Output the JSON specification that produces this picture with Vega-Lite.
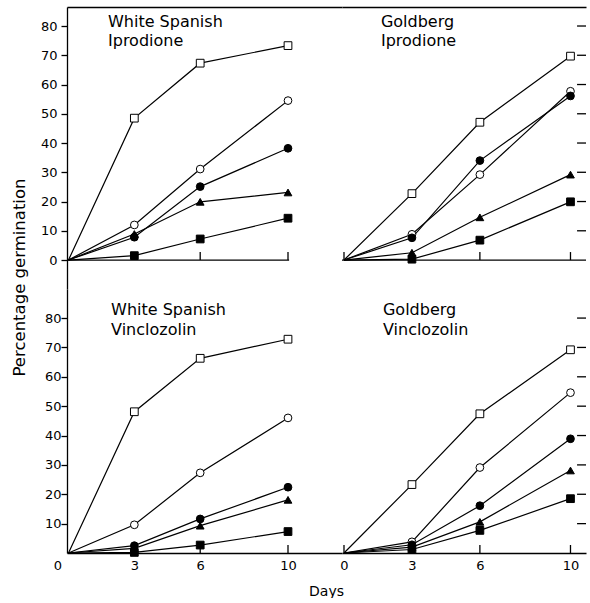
{
  "$schema": "https://vega.github.io/schema/vega-lite/v6.json",
  "padding": {"left": 10, "top": 7, "right": 0, "bottom": 0},
  "config": {
    "font": "DejaVu Sans",
    "view": {"stroke": null},
    "axis": {"grid": false, "domainColor": "black", "tickColor": "black", "labelColor": "black", "titleColor": "black", "labelFontSize": 13, "labelFontWeight": "normal", "labelFlush": false, "labelOverlap": false, "domainWidth": 1.3, "tickWidth": 1.3}
  },
  "datasets": {
    "germ": [
      {"panel": "TL", "series": "open square", "day": 0, "pct": 0},
      {"panel": "TL", "series": "open square", "day": 3, "pct": 48.5},
      {"panel": "TL", "series": "open square", "day": 6, "pct": 67.3},
      {"panel": "TL", "series": "open square", "day": 10, "pct": 73.3},
      {"panel": "TL", "series": "open circle", "day": 0, "pct": 0},
      {"panel": "TL", "series": "open circle", "day": 3, "pct": 12},
      {"panel": "TL", "series": "open circle", "day": 6, "pct": 31.1},
      {"panel": "TL", "series": "open circle", "day": 10, "pct": 54.5},
      {"panel": "TL", "series": "filled circle", "day": 0, "pct": 0},
      {"panel": "TL", "series": "filled circle", "day": 3, "pct": 7.8},
      {"panel": "TL", "series": "filled circle", "day": 6, "pct": 25.1},
      {"panel": "TL", "series": "filled circle", "day": 10, "pct": 38.2},
      {"panel": "TL", "series": "filled triangle", "day": 0, "pct": 0},
      {"panel": "TL", "series": "filled triangle", "day": 3, "pct": 8.9},
      {"panel": "TL", "series": "filled triangle", "day": 6, "pct": 19.9},
      {"panel": "TL", "series": "filled triangle", "day": 10, "pct": 23.1},
      {"panel": "TL", "series": "filled square", "day": 0, "pct": 0},
      {"panel": "TL", "series": "filled square", "day": 3, "pct": 1.5},
      {"panel": "TL", "series": "filled square", "day": 6, "pct": 7.2},
      {"panel": "TL", "series": "filled square", "day": 10, "pct": 14.3},

      {"panel": "TR", "series": "open square", "day": 0, "pct": 0},
      {"panel": "TR", "series": "open square", "day": 3, "pct": 22.7},
      {"panel": "TR", "series": "open square", "day": 6, "pct": 47.1},
      {"panel": "TR", "series": "open square", "day": 10, "pct": 69.7},
      {"panel": "TR", "series": "open circle", "day": 0, "pct": 0},
      {"panel": "TR", "series": "open circle", "day": 3, "pct": 8.8},
      {"panel": "TR", "series": "open circle", "day": 6, "pct": 29.2},
      {"panel": "TR", "series": "open circle", "day": 10, "pct": 57.7},
      {"panel": "TR", "series": "filled circle", "day": 0, "pct": 0},
      {"panel": "TR", "series": "filled circle", "day": 3, "pct": 7.6},
      {"panel": "TR", "series": "filled circle", "day": 6, "pct": 34.0},
      {"panel": "TR", "series": "filled circle", "day": 10, "pct": 56.1},
      {"panel": "TR", "series": "filled triangle", "day": 0, "pct": 0},
      {"panel": "TR", "series": "filled triangle", "day": 3, "pct": 2.5},
      {"panel": "TR", "series": "filled triangle", "day": 6, "pct": 14.6},
      {"panel": "TR", "series": "filled triangle", "day": 10, "pct": 29.2},
      {"panel": "TR", "series": "filled square", "day": 0, "pct": 0},
      {"panel": "TR", "series": "filled square", "day": 3, "pct": 0.3},
      {"panel": "TR", "series": "filled square", "day": 6, "pct": 6.8},
      {"panel": "TR", "series": "filled square", "day": 10, "pct": 19.9},

      {"panel": "BL", "series": "open square", "day": 0, "pct": 0},
      {"panel": "BL", "series": "open square", "day": 3, "pct": 48.1},
      {"panel": "BL", "series": "open square", "day": 6, "pct": 66.3},
      {"panel": "BL", "series": "open square", "day": 10, "pct": 72.8},
      {"panel": "BL", "series": "open circle", "day": 0, "pct": 0},
      {"panel": "BL", "series": "open circle", "day": 3, "pct": 9.6},
      {"panel": "BL", "series": "open circle", "day": 6, "pct": 27.3},
      {"panel": "BL", "series": "open circle", "day": 10, "pct": 46},
      {"panel": "BL", "series": "filled circle", "day": 0, "pct": 0},
      {"panel": "BL", "series": "filled circle", "day": 3, "pct": 2.5},
      {"panel": "BL", "series": "filled circle", "day": 6, "pct": 11.6},
      {"panel": "BL", "series": "filled circle", "day": 10, "pct": 22.4},
      {"panel": "BL", "series": "filled triangle", "day": 0, "pct": 0},
      {"panel": "BL", "series": "filled triangle", "day": 3, "pct": 1.6},
      {"panel": "BL", "series": "filled triangle", "day": 6, "pct": 9.3},
      {"panel": "BL", "series": "filled triangle", "day": 10, "pct": 18.1},
      {"panel": "BL", "series": "filled square", "day": 0, "pct": 0},
      {"panel": "BL", "series": "filled square", "day": 3, "pct": 0.2},
      {"panel": "BL", "series": "filled square", "day": 6, "pct": 2.7},
      {"panel": "BL", "series": "filled square", "day": 10, "pct": 7.3},

      {"panel": "BR", "series": "open square", "day": 0, "pct": 0},
      {"panel": "BR", "series": "open square", "day": 3, "pct": 23.3},
      {"panel": "BR", "series": "open square", "day": 6, "pct": 47.4},
      {"panel": "BR", "series": "open square", "day": 10, "pct": 69.2},
      {"panel": "BR", "series": "open circle", "day": 0, "pct": 0},
      {"panel": "BR", "series": "open circle", "day": 3, "pct": 3.8},
      {"panel": "BR", "series": "open circle", "day": 6, "pct": 29.1},
      {"panel": "BR", "series": "open circle", "day": 10, "pct": 54.6},
      {"panel": "BR", "series": "filled circle", "day": 0, "pct": 0},
      {"panel": "BR", "series": "filled circle", "day": 3, "pct": 2.8},
      {"panel": "BR", "series": "filled circle", "day": 6, "pct": 16.1},
      {"panel": "BR", "series": "filled circle", "day": 10, "pct": 38.9},
      {"panel": "BR", "series": "filled triangle", "day": 0, "pct": 0},
      {"panel": "BR", "series": "filled triangle", "day": 3, "pct": 2.0},
      {"panel": "BR", "series": "filled triangle", "day": 6, "pct": 10.6},
      {"panel": "BR", "series": "filled triangle", "day": 10, "pct": 28.1},
      {"panel": "BR", "series": "filled square", "day": 0, "pct": 0},
      {"panel": "BR", "series": "filled square", "day": 3, "pct": 1.2},
      {"panel": "BR", "series": "filled square", "day": 6, "pct": 7.7},
      {"panel": "BR", "series": "filled square", "day": 10, "pct": 18.5}
    ],
    "yticks": [
      {"tick": 10}, {"tick": 20}, {"tick": 30}, {"tick": 40},
      {"tick": 50}, {"tick": 60}, {"tick": 70}, {"tick": 80}
    ],
    "xticksLeft": [{"tick": 3}, {"tick": 6}, {"tick": 10}],
    "xticksRight": [{"tick": 0}, {"tick": 3}, {"tick": 6}, {"tick": 10}]
  },
  "columns": 2,
  "spacing": 0,
  "bounds": "flush",
  "concat": [
    {
      "width": 275,
      "height": 282,
      "resolve": {"axis": {"x": "independent", "y": "independent"}},
      "layer": [
        {
          "data": {"values": [{"line": "zero"}]},
          "mark": {"type": "rule", "color": "black", "strokeWidth": 1.3},
          "encoding": {
            "x": {"datum": -0.068, "type": "quantitative", "scale": {"domain": [-0.068, 12.46], "nice": false, "zero": false}, "axis": {"orient": "top", "title": null, "labels": false, "ticks": false, "domain": true}},
            "x2": {"datum": 10.05},
            "y": {"datum": 0, "type": "quantitative", "scale": {"domain": [-9.9, 86.5], "nice": false, "zero": false}, "axis": null}
          }
        },
        {
          "data": {"name": "xticksLeft"},
          "mark": {"type": "rule", "color": "black", "strokeWidth": 1.3},
          "encoding": {
            "x": {"field": "tick", "type": "quantitative", "axis": null},
            "y": {"datum": 0, "type": "quantitative", "axis": null},
            "y2": {"datum": 2.73}
          }
        },
        {
          "data": {"name": "germ"},
          "transform": [{"filter": "datum.panel == 'TL'"}],
          "mark": {"type": "line", "color": "black", "strokeWidth": 1.2},
          "encoding": {
            "x": {"field": "day", "type": "quantitative", "scale": {"domain": [-0.068, 12.46], "nice": false, "zero": false}, "axis": null},
            "y": {"field": "pct", "type": "quantitative", "scale": {"domain": [-9.9, 86.5], "nice": false, "zero": false}, "axis": {"orient": "left", "title": null, "values": [0, 10, 20, 30, 40, 50, 60, 70, 80], "tickSize": 6, "labelPadding": 4}},
            "detail": {"field": "series"}
          }
        },
        {
          "data": {"name": "germ"},
          "transform": [{"filter": "datum.panel == 'TL' && datum.day > 0"}],
          "mark": {"type": "point", "filled": true, "stroke": "black", "strokeWidth": 1, "size": 60, "opacity": 1},
          "encoding": {
            "x": {"field": "day", "type": "quantitative", "axis": null},
            "y": {"field": "pct", "type": "quantitative", "axis": null},
            "shape": {"field": "series", "type": "nominal", "scale": {"domain": ["open square", "open circle", "filled circle", "filled triangle", "filled square"], "range": ["square", "circle", "circle", "triangle-up", "square"]}, "legend": null},
            "fill": {"field": "series", "type": "nominal", "scale": {"domain": ["open square", "open circle", "filled circle", "filled triangle", "filled square"], "range": ["white", "white", "black", "black", "black"]}, "legend": null}
          }
        },
        {
          "data": {"values": [{"label": "White Spanish\nIprodione"}]},
          "mark": {"type": "text", "align": "left", "baseline": "top", "fontSize": 16, "lineHeight": 19, "lineBreak": "\n", "color": "black"},
          "encoding": {
            "x": {"datum": 1.8, "axis": null},
            "y": {"datum": 84.2, "axis": null},
            "text": {"field": "label"}
          }
        }
      ]
    },
    {
      "width": 244,
      "height": 282,
      "resolve": {"axis": {"x": "independent", "y": "independent"}},
      "layer": [
        {
          "data": {"values": [{"line": "zero"}]},
          "mark": {"type": "rule", "color": "black", "strokeWidth": 1.3},
          "encoding": {
            "x": {"datum": -0.088, "type": "quantitative", "scale": {"domain": [-0.088, 10.685], "nice": false, "zero": false}, "axis": {"orient": "top", "title": null, "labels": false, "ticks": false, "domain": true}},
            "x2": {"datum": 10.685},
            "y": {"datum": 0, "type": "quantitative", "scale": {"domain": [-9.9, 86.5], "nice": false, "zero": false}, "axis": null}
          }
        },
        {
          "data": {"name": "xticksRight"},
          "mark": {"type": "rule", "color": "black", "strokeWidth": 1.3},
          "encoding": {
            "x": {"field": "tick", "type": "quantitative", "axis": null},
            "y": {"datum": 0, "type": "quantitative", "axis": null},
            "y2": {"datum": 2.73}
          }
        },
        {
          "data": {"name": "yticks"},
          "mark": {"type": "rule", "color": "black", "strokeWidth": 1.3},
          "encoding": {
            "x": {"datum": 10.29, "type": "quantitative", "axis": null},
            "x2": {"datum": 10.685},
            "y": {"field": "tick", "type": "quantitative", "axis": null}
          }
        },
        {
          "data": {"name": "germ"},
          "transform": [{"filter": "datum.panel == 'TR'"}],
          "mark": {"type": "line", "color": "black", "strokeWidth": 1.2},
          "encoding": {
            "x": {"field": "day", "type": "quantitative", "scale": {"domain": [-0.088, 10.685], "nice": false, "zero": false}, "axis": null},
            "y": {"field": "pct", "type": "quantitative", "scale": {"domain": [-9.9, 86.5], "nice": false, "zero": false}, "axis": null},
            "detail": {"field": "series"}
          }
        },
        {
          "data": {"name": "germ"},
          "transform": [{"filter": "datum.panel == 'TR' && datum.day > 0"}],
          "mark": {"type": "point", "filled": true, "stroke": "black", "strokeWidth": 1, "size": 60, "opacity": 1},
          "encoding": {
            "x": {"field": "day", "type": "quantitative", "axis": null},
            "y": {"field": "pct", "type": "quantitative", "axis": null},
            "shape": {"field": "series", "type": "nominal", "scale": {"domain": ["open square", "open circle", "filled circle", "filled triangle", "filled square"], "range": ["square", "circle", "circle", "triangle-up", "square"]}, "legend": null},
            "fill": {"field": "series", "type": "nominal", "scale": {"domain": ["open square", "open circle", "filled circle", "filled triangle", "filled square"], "range": ["white", "white", "black", "black", "black"]}, "legend": null}
          }
        },
        {
          "data": {"values": [{"label": "Goldberg\nIprodione"}]},
          "mark": {"type": "text", "align": "left", "baseline": "top", "fontSize": 16, "lineHeight": 19, "lineBreak": "\n", "color": "black"},
          "encoding": {
            "x": {"datum": 1.63, "axis": null},
            "y": {"datum": 84.2, "axis": null},
            "text": {"field": "label"}
          }
        }
      ]
    },
    {
      "width": 275,
      "height": 264,
      "resolve": {"axis": {"x": "independent", "y": "independent"}},
      "layer": [
        {
          "data": {"name": "xticksLeft"},
          "mark": {"type": "rule", "color": "black", "strokeWidth": 1.3},
          "encoding": {
            "x": {"field": "tick", "type": "quantitative", "scale": {"domain": [-0.068, 12.46], "nice": false, "zero": false}, "axis": null},
            "y": {"datum": 0, "type": "quantitative", "scale": {"domain": [0, 89.9], "nice": false, "zero": false}, "axis": null},
            "y2": {"datum": 2.72}
          }
        },
        {
          "data": {"name": "germ"},
          "transform": [{"filter": "datum.panel == 'BL'"}],
          "mark": {"type": "line", "color": "black", "strokeWidth": 1.2},
          "encoding": {
            "x": {"field": "day", "type": "quantitative", "scale": {"domain": [-0.068, 12.46], "nice": false, "zero": false}, "axis": {"orient": "bottom", "title": "Days", "titleFontSize": 14, "titleFontWeight": "normal", "titleX": 259, "titleY": 38, "titleAlign": "center", "titleBaseline": "middle", "values": [0, 3, 6, 10], "ticks": false, "labelPadding": 6, "labelOffset": {"condition": {"test": "datum.value == 0", "value": -11}, "value": 0}}},
            "y": {"field": "pct", "type": "quantitative", "scale": {"domain": [0, 89.9], "nice": false, "zero": false}, "axis": {"orient": "left", "title": "Percentage germination", "titleFontSize": 16.5, "titleFontWeight": "normal", "titleX": -48, "titleY": -12, "titleAngle": -90, "titleAlign": "center", "titleBaseline": "middle", "values": [10, 20, 30, 40, 50, 60, 70, 80], "tickSize": 6, "labelPadding": 0}},
            "detail": {"field": "series"}
          }
        },
        {
          "data": {"name": "germ"},
          "transform": [{"filter": "datum.panel == 'BL' && datum.day > 0"}],
          "mark": {"type": "point", "filled": true, "stroke": "black", "strokeWidth": 1, "size": 60, "opacity": 1},
          "encoding": {
            "x": {"field": "day", "type": "quantitative", "axis": null},
            "y": {"field": "pct", "type": "quantitative", "axis": null},
            "shape": {"field": "series", "type": "nominal", "scale": {"domain": ["open square", "open circle", "filled circle", "filled triangle", "filled square"], "range": ["square", "circle", "circle", "triangle-up", "square"]}, "legend": null},
            "fill": {"field": "series", "type": "nominal", "scale": {"domain": ["open square", "open circle", "filled circle", "filled triangle", "filled square"], "range": ["white", "white", "black", "black", "black"]}, "legend": null}
          }
        },
        {
          "data": {"values": [{"label": "White Spanish\nVinclozolin"}]},
          "mark": {"type": "text", "align": "left", "baseline": "top", "fontSize": 16, "lineHeight": 20, "lineBreak": "\n", "color": "black"},
          "encoding": {
            "x": {"datum": 1.94, "axis": null},
            "y": {"datum": 85.6, "axis": null},
            "text": {"field": "label"}
          }
        }
      ]
    },
    {
      "width": 244,
      "height": 264,
      "resolve": {"axis": {"x": "independent", "y": "independent"}},
      "layer": [
        {
          "data": {"name": "xticksRight"},
          "mark": {"type": "rule", "color": "black", "strokeWidth": 1.3},
          "encoding": {
            "x": {"field": "tick", "type": "quantitative", "scale": {"domain": [-0.088, 10.685], "nice": false, "zero": false}, "axis": null},
            "y": {"datum": 0, "type": "quantitative", "scale": {"domain": [0, 89.9], "nice": false, "zero": false}, "axis": null},
            "y2": {"datum": 2.72}
          }
        },
        {
          "data": {"name": "yticks"},
          "mark": {"type": "rule", "color": "black", "strokeWidth": 1.3},
          "encoding": {
            "x": {"datum": 10.29, "type": "quantitative", "axis": null},
            "x2": {"datum": 10.685},
            "y": {"field": "tick", "type": "quantitative", "axis": null}
          }
        },
        {
          "data": {"name": "germ"},
          "transform": [{"filter": "datum.panel == 'BR'"}],
          "mark": {"type": "line", "color": "black", "strokeWidth": 1.2},
          "encoding": {
            "x": {"field": "day", "type": "quantitative", "scale": {"domain": [-0.088, 10.685], "nice": false, "zero": false}, "axis": {"orient": "bottom", "title": null, "values": [0, 3, 6, 10], "ticks": false, "labelPadding": 6}},
            "y": {"field": "pct", "type": "quantitative", "scale": {"domain": [0, 89.9], "nice": false, "zero": false}, "axis": null},
            "detail": {"field": "series"}
          }
        },
        {
          "data": {"name": "germ"},
          "transform": [{"filter": "datum.panel == 'BR' && datum.day > 0"}],
          "mark": {"type": "point", "filled": true, "stroke": "black", "strokeWidth": 1, "size": 60, "opacity": 1},
          "encoding": {
            "x": {"field": "day", "type": "quantitative", "axis": null},
            "y": {"field": "pct", "type": "quantitative", "axis": null},
            "shape": {"field": "series", "type": "nominal", "scale": {"domain": ["open square", "open circle", "filled circle", "filled triangle", "filled square"], "range": ["square", "circle", "circle", "triangle-up", "square"]}, "legend": null},
            "fill": {"field": "series", "type": "nominal", "scale": {"domain": ["open square", "open circle", "filled circle", "filled triangle", "filled square"], "range": ["white", "white", "black", "black", "black"]}, "legend": null}
          }
        },
        {
          "data": {"values": [{"label": "Goldberg\nVinclozolin"}]},
          "mark": {"type": "text", "align": "left", "baseline": "top", "fontSize": 16, "lineHeight": 20, "lineBreak": "\n", "color": "black"},
          "encoding": {
            "x": {"datum": 1.72, "axis": null},
            "y": {"datum": 85.6, "axis": null},
            "text": {"field": "label"}
          }
        }
      ]
    }
  ]
}
